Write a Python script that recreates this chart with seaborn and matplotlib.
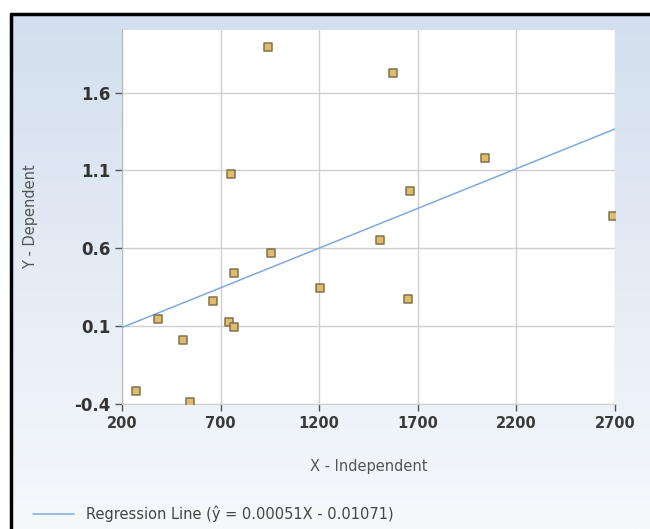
import numpy as np
import pandas as pd
import seaborn as sns
import matplotlib.pyplot as plt
from matplotlib.colors import LinearSegmentedColormap

# data
x_vals = [940, 1574, 753, 2041, 1660, 2690, 1508, 956, 768, 1204, 661, 1650, 383, 743, 768, 509, 271, 545]
y_vals = [1.895, 1.728, 1.074, 1.177, 0.965, 0.805, 0.651, 0.568, 0.44, 0.344, 0.26, 0.273, 0.145, 0.126, 0.094, 0.01, -0.317, -0.387]
slope = 0.00051
intercept = -0.01071
x_ticks = [200, 700, 1200, 1700, 2200, 2700]
y_ticks = [-0.4, 0.1, 0.6, 1.1, 1.6]

df = pd.DataFrame({"x": x_vals, "y": y_vals})
line_x = np.array([x_ticks[0], x_ticks[-1]])
line_df = pd.DataFrame({"x": line_x, "y": slope * line_x + intercept})

sns.set_style("white")
fig = plt.figure(figsize=(6.5, 5.29), dpi=100)
fig.patch.set_facecolor("white")

# gradient background inside the black frame
bg = fig.add_axes([11 / 650, 0, 1 - 11 / 650, (529 - 14) / 529], zorder=-10)
cmap = LinearSegmentedColormap.from_list("bg", ["#d3dfee", "#e4ecf5", "#f6f9fc"])
bg.imshow(np.linspace(0, 1, 256).reshape(-1, 1), aspect="auto", cmap=cmap,
          extent=[0, 1, 0, 1])
bg.set_axis_off()
fig.add_artist(plt.Line2D([11 / 650, 1], [1 - 14 / 529, 1 - 14 / 529], color="black", lw=2.5,
                          transform=fig.transFigure))
fig.add_artist(plt.Line2D([11 / 650, 11 / 650], [0, 1 - 14 / 529], color="black", lw=2.5,
                          transform=fig.transFigure))

ax = fig.add_axes([122 / 650, 1 - 404 / 529, (615 - 122) / 650, (404 - 29.5) / 529])
ax.set_facecolor("white")

sns.lineplot(data=line_df, x="x", y="y", ax=ax, color="#7ea9de", lw=1.1,
             label="Regression Line (\u0177 = 0.00051X - 0.01071)", zorder=3)
sns.scatterplot(data=df, x="x", y="y", ax=ax, marker="s", s=36, color="#dcbc6e",
                edgecolor="#85704a", linewidth=1.1, zorder=4, legend=False)

ax.set_xlim(x_ticks[0], x_ticks[-1])
ax.set_ylim(-0.4, 2.005)
ax.set_xticks(x_ticks)
ax.set_yticks(y_ticks)
ax.set_yticklabels([f"{v:.1f}" for v in y_ticks], fontsize=12, fontweight="bold", color="#333333")
ax.set_xticklabels([str(v) for v in x_ticks], fontsize=10.5, fontweight="semibold", color="#3a3a3a")
ax.grid(True, color="#cfcfcf", lw=1)
ax.tick_params(axis="both", which="both", length=5, width=1, color="#555555", left=True, bottom=True)
for s in ["top", "right"]:
    ax.spines[s].set_visible(False)
ax.spines["left"].set_color("#b8b8b8")
ax.spines["bottom"].set_color("#cfcfcf")

ax.set_xlabel("X - Independent", fontsize=10.5, color="#555555", labelpad=20)
ax.set_ylabel("Y - Dependent", fontsize=10.5, color="#555555", labelpad=26)

ax.legend(loc="lower left", bbox_to_anchor=(20 / 650, -6 / 529), bbox_transform=fig.transFigure,
          frameon=False, fontsize=10.5, handlelength=2.8, labelcolor="#444444")

fig.savefig("out.png", dpi=100)
